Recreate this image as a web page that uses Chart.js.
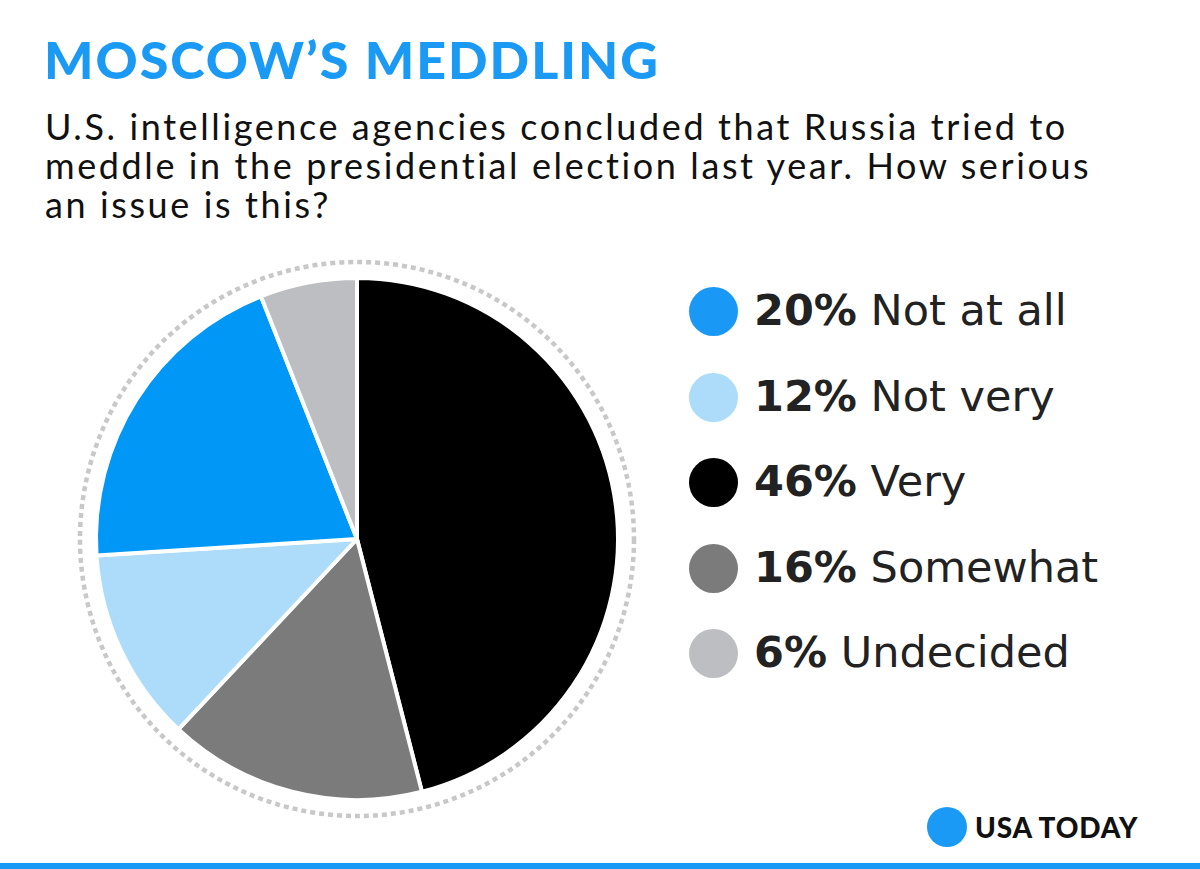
<!DOCTYPE html>
<html>
<head>
<meta charset="utf-8">
<script src="https://cdn.jsdelivr.net/npm/chart.js@4.4.0/dist/chart.umd.min.js"></script>
<style>
  html, body { margin: 0; padding: 0; background: #fff; }
  body { width: 1200px; height: 869px; position: relative; overflow: hidden; font-family: Lato, "Open Sans", sans-serif; }
  #title { position: absolute; left: 44px; top: 33px; font-size: 52px; line-height: 52px; font-weight: 900; color: #1a9af5; letter-spacing: 2px; white-space: nowrap; }
  #subtitle { position: absolute; left: 45px; top: 107px; width: 1140px; font-size: 36px; line-height: 39px; color: #111; letter-spacing: 2.6px; white-space: nowrap; }
  #pieWrap { position: absolute; left: 67px; top: 249px; width: 580px; height: 580px; }
  #legend { position: absolute; left: 689px; top: 287px; }
  .item { height: 85.5px; display: flex; align-items: flex-start; }
  .dot { width: 49px; height: 49px; border-radius: 50%; margin-right: 16px; flex: none; }
  .txt { font-family: "DejaVu Sans", sans-serif; font-size: 43px; line-height: 49px; color: #222; white-space: nowrap; margin-top: -1px; }
  .txt b { font-weight: bold; color: #222; }
  #brand { position: absolute; left: 927px; top: 807px; display: flex; align-items: center; }
  #brand .c { width: 40px; height: 40px; border-radius: 50%; background: #1a9af5; margin-right: 8px; }
  #brand span { font-size: 28px; font-weight: 900; color: #111; letter-spacing: 0.8px; }
  #bar { position: absolute; left: 0; top: 863px; width: 1200px; height: 6px; background: #1a9af5; }
</style>
</head>
<body>
<div id="title">MOSCOW’S MEDDLING</div>
<div id="subtitle">U.S. intelligence agencies concluded that Russia tried to<br>meddle in the presidential election last year. How serious<br>an issue is this?</div>
<div id="pieWrap"><canvas id="pie" width="580" height="580"></canvas></div>
<div id="legend"></div>
<div id="brand"><div class="c"></div><span>USA TODAY</span></div>
<div id="bar"></div>
<script>
// slices in clockwise order from 12 o'clock
const labels = ['Very', 'Somewhat', 'Not very', 'Not at all', 'Undecided'];
const values = [46, 16, 12, 20, 6];
const colors = ['#000000', '#7b7b7b', '#acdcfa', '#0097f6', '#bdbec1'];
const legendColors = ['#000000', '#7b7b7b', '#acdcfa', '#1a98f5', '#bdbec1'];
// legend reads in a different order than the slices
const legendOrder = ['Not at all', 'Not very', 'Very', 'Somewhat', 'Undecided'];

const dottedRing = {
    id: 'dottedRing',
    beforeDatasetsDraw(chart) {
        const arc = chart.getDatasetMeta(0).data[0];
        if (!arc) return;
        const ctx = chart.ctx;
        ctx.save();
        ctx.beginPath();
        ctx.arc(arc.x, arc.y, arc.outerRadius + 16, 0, Math.PI * 2);
        ctx.setLineDash([5, 4]);
        ctx.lineWidth = 4.5;
        ctx.strokeStyle = '#c8c8c8';
        ctx.stroke();
        ctx.restore();
    }
};

new Chart(document.getElementById('pie').getContext('2d'), {
    type: 'pie',
    data: {
        labels,
        datasets: [{ data: values, backgroundColor: colors, borderColor: '#ffffff', borderWidth: 4 }]
    },
    options: {
        responsive: false,
        animation: false,
        layout: { padding: 27 },
        plugins: { legend: { display: false }, tooltip: { enabled: false } }
    },
    plugins: [dottedRing]
});

const legendEl = document.getElementById('legend');
legendOrder.forEach(name => {
    const i = labels.indexOf(name);
    const row = document.createElement('div');
    row.className = 'item';
    row.innerHTML = `<div class="dot" style="background:${legendColors[i]}"></div>` +
        `<div class="txt"><b>${values[i]}%</b> ${name}</div>`;
    legendEl.appendChild(row);
});
</script>
</body>
</html>
